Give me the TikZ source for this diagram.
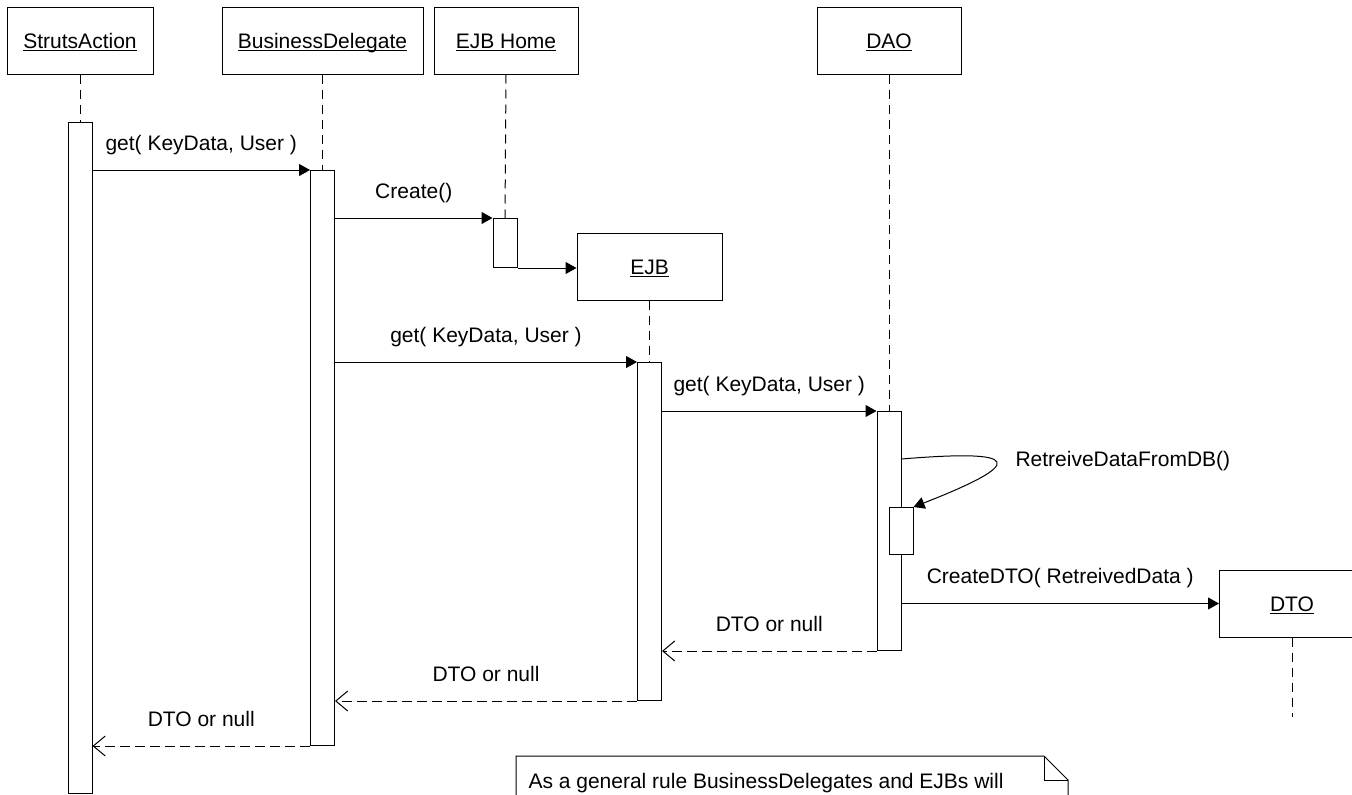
\documentclass[tikz,border=0pt]{standalone}
\usepackage{fontspec}
\setmainfont{Liberation Sans}
\usetikzlibrary{arrows.meta,positioning}
\newcommand{\objname}[1]{\setbox0\hbox{#1}\rlap{\rule[-3pt]{\wd0}{1pt}}\box0}

\begin{document}
\begin{tikzpicture}[
  x=1pt, y=-1pt,
  font=\fontsize{21}{25}\selectfont,
  line width=1pt,
  obj/.style={draw, inner sep=0pt, minimum height=67pt, text height=15pt, text depth=0pt},
  actbar/.style={draw, fill=white, inner sep=0pt, minimum width=24pt, anchor=north},
  life/.style={dash pattern=on 9pt off 6pt},
  call/.style={-{Triangle[length=11pt,width=12pt]}},
  reply/.style={-{Straight Barb[length=12pt,width=20pt]}, dash pattern=on 10pt off 5pt},
  lbl/.style={midway, anchor=base, yshift=20pt, inner sep=0pt},
  ]
  \clip (0,0) rectangle (1352,795);
  % objects
  \node[obj, minimum width=146pt] (sa) at (80,40.5) {\objname{StrutsAction}};
  \node[obj, minimum width=201pt] (bd) at (322.5,40.5) {\objname{BusinessDelegate}};
  \node[obj, minimum width=144pt, right=10pt of bd] (eh) {\objname{EJB Home}};
  \node[obj, minimum width=144pt] (dao) at (889,40.5) {\objname{DAO}};
  \node[obj, minimum width=145pt] (ejb) at (649.5,266.5) {\objname{EJB}};
  \node[obj, minimum width=145pt] (dto) at (1292,603.5) {\objname{DTO}};
  % activations
  \node[actbar, minimum height=671pt] (saBar) at (80,122) {};
  \node[actbar, minimum height=575pt] (bdBar) at (322.5,170) {};
  \node[actbar, minimum height=49pt] (ehBar) at (505,218) {};
  \node[actbar, minimum height=338pt] (ejbBar) at (649.5,362) {};
  \node[actbar, minimum height=239pt] (daoBar) at (889,411) {};
  \node[actbar, minimum height=47pt] (subBar) at (901,507) {};
  \coordinate (dtoEnd) at (1292,717);
  % lifelines
  \draw[life] (sa.south) -- (saBar.north);
  \draw[life] (bd.south) -- (bdBar.north);
  \draw[life] (eh.south) -- (ehBar.north);
  \draw[life] (ejb.south) -- (ejbBar.north);
  \draw[life] (dao.south) -- (daoBar.north);
  \draw[life] (dto.south) -- (dtoEnd);
  % messages
  \draw[call] (bdBar.north west -| saBar.east) -- (bdBar.north west)
    node[lbl] (m1) {get( KeyData, User )};
  \draw[call] (ehBar.north west -| bdBar.east) -- (ehBar.north west)
    node[lbl] (m2) {Create()};
  \draw[call] (ehBar.south east) -- (ehBar.south east -| ejb.west);
  \draw[call] (ejbBar.north west -| bdBar.east) -- (ejbBar.north west)
    node[lbl] (m3) {get( KeyData, User )};
  \draw[call] (daoBar.north west -| ejbBar.east) -- (daoBar.north west)
    node[lbl] (m4) {get( KeyData, User )};
  \draw[call] ([yshift=-48pt]daoBar.north east) .. controls +(120,-10) and +(115,-45) .. (subBar.north east);
  \node[anchor=base west, inner sep=0pt] (m5) at (1015,466) {RetreiveDataFromDB()};
  \draw[call] (dto.west -| daoBar.east) -- (dto.west)
    node[lbl] (m6) {CreateDTO( RetreivedData )};
  % replies
  \draw[reply] (daoBar.south west) -- (daoBar.south west -| ejbBar.east)
    node[lbl] (r1) {DTO or null};
  \draw[reply] (ejbBar.south west) -- (ejbBar.south west -| bdBar.east)
    node[lbl] (r2) {DTO or null};
  \draw[reply] (bdBar.south west) -- (bdBar.south west -| saBar.east)
    node[lbl] (r3) {DTO or null};
  % note
  \draw (516,800) -- (516,756) -- (1044,756) -- (1068,780) -- (1068,800);
  \draw (1044,756) -- (1044,780) -- (1068,780);
  \node[anchor=base west, inner sep=0pt] (noteText) at (528,788) {As a general rule BusinessDelegates and EJBs will};
\end{tikzpicture}
\end{document}
